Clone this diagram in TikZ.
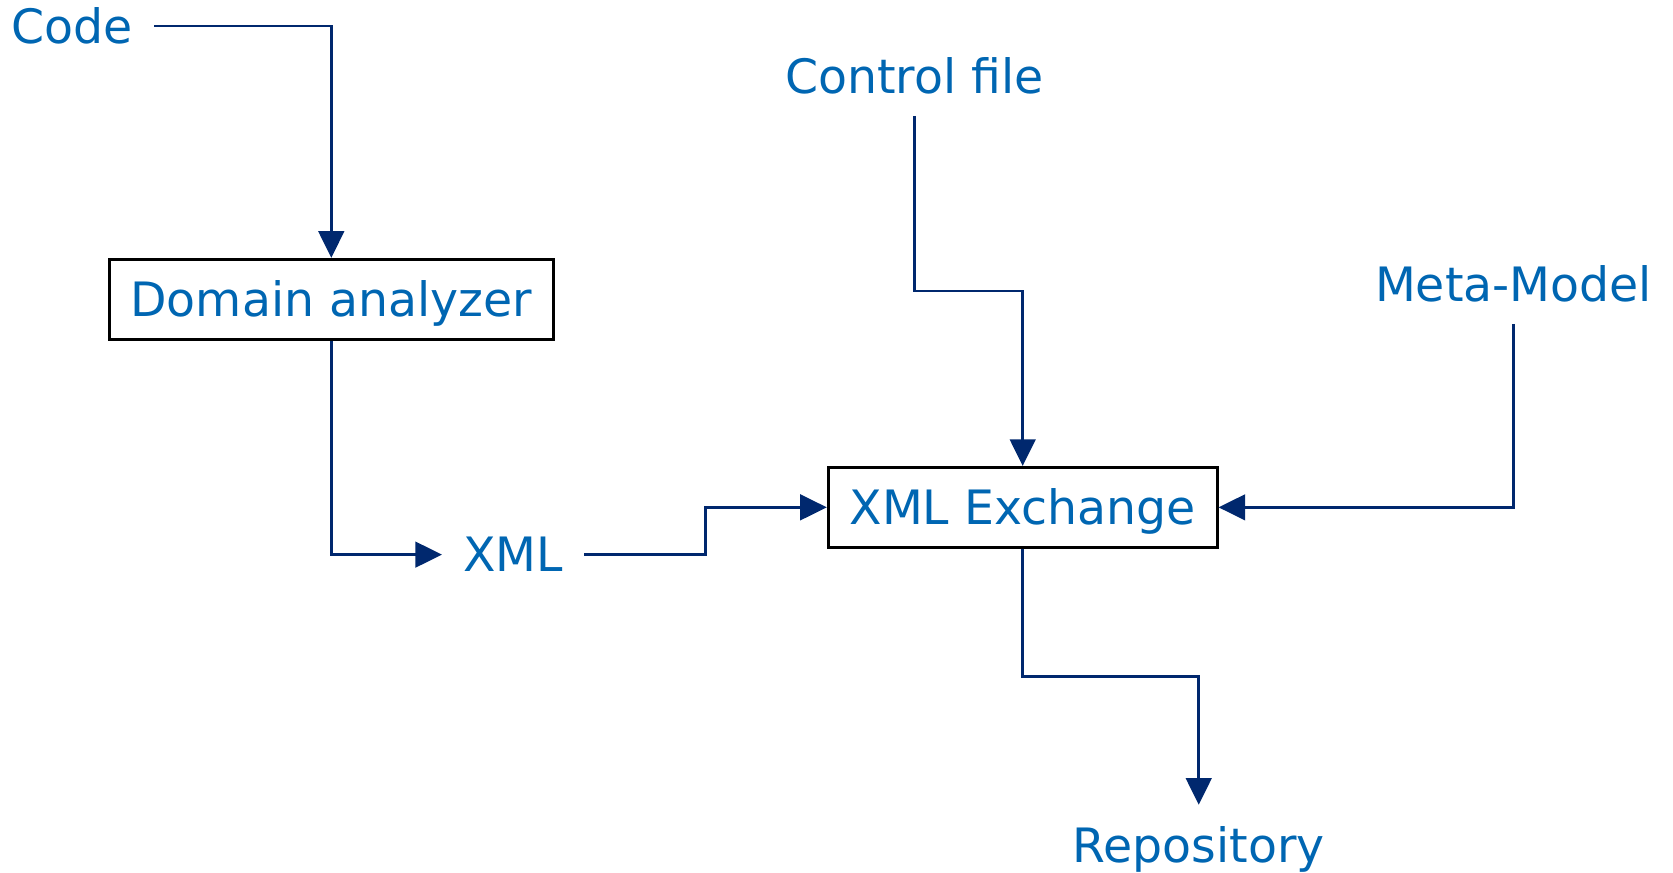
\documentclass[tikz,border=0pt]{standalone}
\usepackage{fontspec}
\setmainfont{DejaVu Sans}
\usepackage{xcolor}
\usepackage{tikz}
\usetikzlibrary{
    positioning,
    arrows.meta,
    calc
}
\definecolor{labelBlue}{RGB}{0, 102, 178}
\definecolor{flowNavy}{RGB}{0, 40, 110}

\begin{document}
\begin{tikzpicture}[x=0.5pt, y=-0.5pt, >={Triangle[length=12.5pt, width=12pt]},
    font=\fontsize{22.2pt}{26pt}\selectfont,
    box/.style={draw=black, line width=1.3pt, text=labelBlue, inner xsep=10pt,
        minimum height=37.5pt, text height=16.2pt, text depth=0pt},
    lbl/.style={text=labelBlue, inner sep=0pt, outer sep=10pt, anchor=base},
    flow/.style={draw=flowNavy, line width=1.3pt}]
        \useasboundingbox (0,0) rectangle (1568,818);

        % Kasten
        \node[box] (dom) at (310.5,280.5) {Domain analyzer};
        \node[box] (xex) at (958.5,475.5) {XML Exchange};

        % Beschriftungen
        \node[lbl] (code) at (67.5,41) {Code};
        \node[lbl] (ctrl) at (857,88) {Control file};
        \node[lbl] (meta) at (1418.5,283) {Meta-Model};
        \node[lbl] (xml) at (481,536) {XML};
        \node[lbl] (repo) at (1123.5,808) {Repository};

        % Hilfspunkte
        \coordinate (m1) at ($ (ctrl.south)!0.5!(xex.north) $);
        \coordinate (m2) at ($ (xml.east)!0.5!(xex.west) $);
        \coordinate (m3) at ($ (xex.south)!0.5!(repo.north) $);

        % Verbindungen
        \draw[flow, ->] (code.east) -| (dom.north);
        \draw[flow, ->] (dom.south) |- (xml.west);
        \draw[flow, ->] (xml.east) -| (m2) |- (xex.west);
        \draw[flow, ->] (ctrl.south) |- (m1) -| (xex.north);
        \draw[flow, ->] (meta.south) |- (xex.east);
        \draw[flow, ->] (xex.south) |- (m3) -| (repo.north);
    \end{tikzpicture}
\end{document}
